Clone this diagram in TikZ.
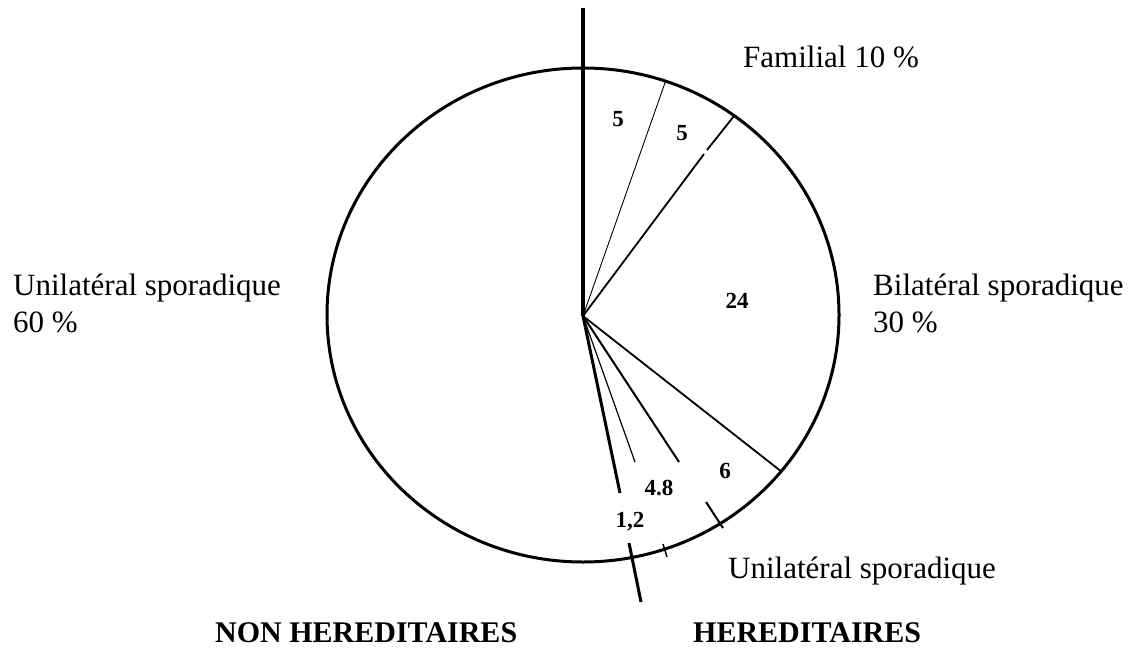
\documentclass[tikz,border=0pt]{standalone}
\usepackage{fontspec}
\setmainfont{Liberation Serif}
\begin{document}
\begin{tikzpicture}[x=1pt,y=-1pt,
  lbl/.style={inner sep=0pt, anchor=base west, font=\fontsize{31}{37}\selectfont},
  hdr/.style={inner sep=0pt, anchor=base west, font=\fontsize{30}{36}\selectfont\bfseries},
  num/.style={inner sep=0pt, anchor=base, font=\fontsize{23}{27}\selectfont\bfseries},
  rim/.style={line width=3pt},
  axis/.style={line width=3.4pt},
  rad/.style={line width=1.8pt},
  thinrad/.style={line width=0.9pt}]
\useasboundingbox (0,0) rectangle (1137,650);
% pie outline
\draw[rim] (583,315) ellipse [x radius=256, y radius=247];
% hub and spoke ends
\coordinate (hub) at (583,316);
\coordinate (top) at (583,8);
\coordinate (fa) at (666,80);
\coordinate (fb1) at (704,154);
\coordinate (fb2) at (707,150);
\coordinate (fb) at (734,116);
\coordinate (bs) at (782,472);
\coordinate (u1) at (635,462);
\coordinate (u2) at (679,462);
\coordinate (ax1) at (620,493);
\coordinate (ax2) at (629,543);
\coordinate (ax3) at (641,602);
\coordinate (t1a) at (706,502);
\coordinate (t1b) at (723,528);
\coordinate (t2a) at (663,544);
\coordinate (t2b) at (667,557);
% spokes
\draw[axis] (top) -- (hub);
\draw[thinrad] (hub) -- (fa);
\draw[rad] (hub) -- (fb1);
\draw[rad] (fb2) -- (fb);
\draw[rad] (hub) -- (bs);
\draw[line width=1.2pt] (hub) -- (u1);
\draw[line width=2pt] (hub) -- (u2);
\draw[line width=3pt] (hub) -- (ax1);
\draw[line width=3pt] (ax2) -- (ax3);
\draw[line width=2pt] (t1a) -- (t1b);
\draw[line width=1.5pt] (t2a) -- (t2b);
% numbers
\node[num] (n5a) at (618,127) {5};
\node[num] (n5b) at (682,140) {5};
\node[num] (n24) at (737,308) {24};
\node[num] (n6) at (725,478) {6};
\node[num] (n48) at (659,495) {4.8};
\node[num] (n12) at (630,527) {1,2};
% labels
\node[lbl] (fam) at (743,68) {Familial 10 \%};
\node[lbl] (ul1) at (13,295) {Unilatéral sporadique};
\node[lbl] (ul2) at (13,332) {60 \%};
\node[lbl] (bl1) at (873,295) {Bilatéral sporadique};
\node[lbl] (bl2) at (873,332) {30 \%};
\node[lbl] (ub) at (728,578) {Unilatéral sporadique};
\node[hdr] (nh) at (215,642) {NON HEREDITAIRES};
\node[hdr] (hh) at (693,642) {HEREDITAIRES};
\end{tikzpicture}
\end{document}
